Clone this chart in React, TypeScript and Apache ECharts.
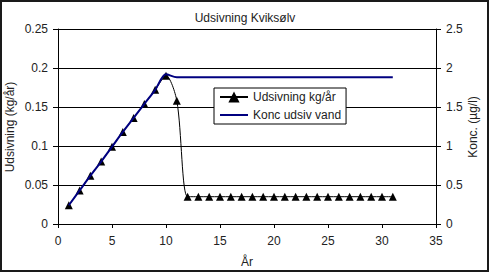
import React, { useEffect, useRef } from "react";
import * as echarts from "echarts";

const years = [1, 2, 3, 4, 5, 6, 7, 8, 9, 10, 11, 12, 13, 14, 15, 16, 17, 18, 19, 20, 21, 22, 23, 24, 25, 26, 27, 28, 29, 30, 31];
const udsivning = [0.024, 0.043, 0.062, 0.080, 0.099, 0.118, 0.136, 0.154, 0.172, 0.190, 0.158,
  0.035, 0.035, 0.035, 0.035, 0.035, 0.035, 0.035, 0.035, 0.035, 0.035,
  0.035, 0.035, 0.035, 0.035, 0.035, 0.035, 0.035, 0.035, 0.035, 0.035];
const konc = [0.24, 0.43, 0.62, 0.80, 0.99, 1.18, 1.36, 1.54, 1.72, 1.92, 1.88,
  1.88, 1.88, 1.88, 1.88, 1.88, 1.88, 1.88, 1.88, 1.88, 1.88,
  1.88, 1.88, 1.88, 1.88, 1.88, 1.88, 1.88, 1.88, 1.88, 1.88];

const FONT = "'Liberation Sans', Arial, sans-serif";
const TXT = "#222";

export default function App() {
  const ref = useRef<HTMLDivElement>(null);
  useEffect(() => {
    if (!ref.current) return;
    const chart = echarts.init(ref.current, undefined, { renderer: "svg" });
    chart.setOption({
      animation: false,
      backgroundColor: "#fff",
      textStyle: { fontFamily: FONT },
      title: {
        text: "Udsivning Kviksølv",
        left: "center",
        top: 7,
        textStyle: { fontSize: 12, fontWeight: "normal", color: TXT, fontFamily: FONT },
      },
      graphic: [
        {
          type: "rect",
          shape: { x: 1, y: 1, width: 487, height: 270 },
          style: { fill: "none", stroke: "#1a1a1a", lineWidth: 2 },
          silent: true,
        },
        {
          type: "text",
          x: 10,
          y: 127,
          rotation: Math.PI / 2,
          style: {
            text: "Udsivning (kg/år)",
            fontSize: 12,
            fontFamily: FONT,
            fill: TXT,
            align: "center",
            verticalAlign: "middle",
          },
          silent: true,
        },
        {
          type: "text",
          x: 473,
          y: 127,
          rotation: Math.PI / 2,
          style: {
            text: "Konc. (µg/l)",
            fontSize: 12,
            fontFamily: FONT,
            fill: TXT,
            align: "center",
            verticalAlign: "middle",
          },
          silent: true,
        },
      ],
      grid: { left: 58, right: 54, top: 29, bottom: 50, containLabel: false, outerBoundsMode: "none" },
      legend: {
        orient: "vertical",
        left: 214,
        top: 88,
        padding: [3, 5, 3, 5],
        itemWidth: 28,
        itemHeight: 14,
        itemGap: 6,
        itemTextGap: 1,
        backgroundColor: "#fff",
        borderColor: "#000",
        borderWidth: 1,
        borderRadius: 0,
        textStyle: { fontSize: 12, color: TXT, fontFamily: FONT },
        data: [
          { name: "Udsivning kg/år" },
          { name: "Konc udsiv vand", icon: "path://M0 6 L28 6 L28 8 L0 8 Z" },
        ],
      },
      xAxis: {
        type: "value",
        min: 0,
        max: 35,
        interval: 5,
        name: "År",
        nameLocation: "middle",
        nameGap: 32,
        nameTextStyle: { fontSize: 12, color: TXT, fontFamily: FONT },
        axisLine: { show: true, lineStyle: { color: "#000", width: 1 } },
        axisTick: { show: true, length: 4, lineStyle: { color: "#000" } },
        axisLabel: { fontSize: 12, color: TXT, margin: 11, fontFamily: FONT },
        splitLine: { show: false },
      },
      yAxis: [
        {
          type: "value",
          min: 0,
          max: 0.25,
          interval: 0.05,
          axisLine: { show: true, lineStyle: { color: "#000", width: 1 } },
          axisTick: { show: true, length: 5, lineStyle: { color: "#000" } },
          axisLabel: { fontSize: 12, color: TXT, margin: 10, fontFamily: FONT },
          splitLine: { show: true, lineStyle: { color: "#000", width: 1 } },
        },
        {
          type: "value",
          min: 0,
          max: 2.5,
          interval: 0.5,
          axisLine: { show: true, lineStyle: { color: "#000", width: 1 } },
          axisTick: { show: true, length: 5, lineStyle: { color: "#000" } },
          axisLabel: { fontSize: 12, color: TXT, margin: 10, fontFamily: FONT },
          splitLine: { show: false },
        },
      ],
      series: [
        {
          name: "Udsivning kg/år",
          type: "line",
          yAxisIndex: 0,
          smooth: 0.3,
          symbol: "triangle",
          symbolSize: 8,
          lineStyle: { color: "#000", width: 1 },
          itemStyle: { color: "#000" },
          data: years.map((x, i) => [x, udsivning[i]]),
          z: 2,
        },
        {
          name: "Konc udsiv vand",
          type: "line",
          yAxisIndex: 1,
          smooth: 0.3,
          showSymbol: false,
          symbol: "none",
          lineStyle: { color: "#000080", width: 2 },
          itemStyle: { color: "#000080" },
          data: years.map((x, i) => [x, konc[i]]),
          z: 3,
        },
      ],
    });
    return () => chart.dispose();
  }, []);
  return (
    <div
      ref={ref}
      style={{ position: "fixed", left: 0, top: 0, width: 490, height: 274 }}
    />
  );
}
